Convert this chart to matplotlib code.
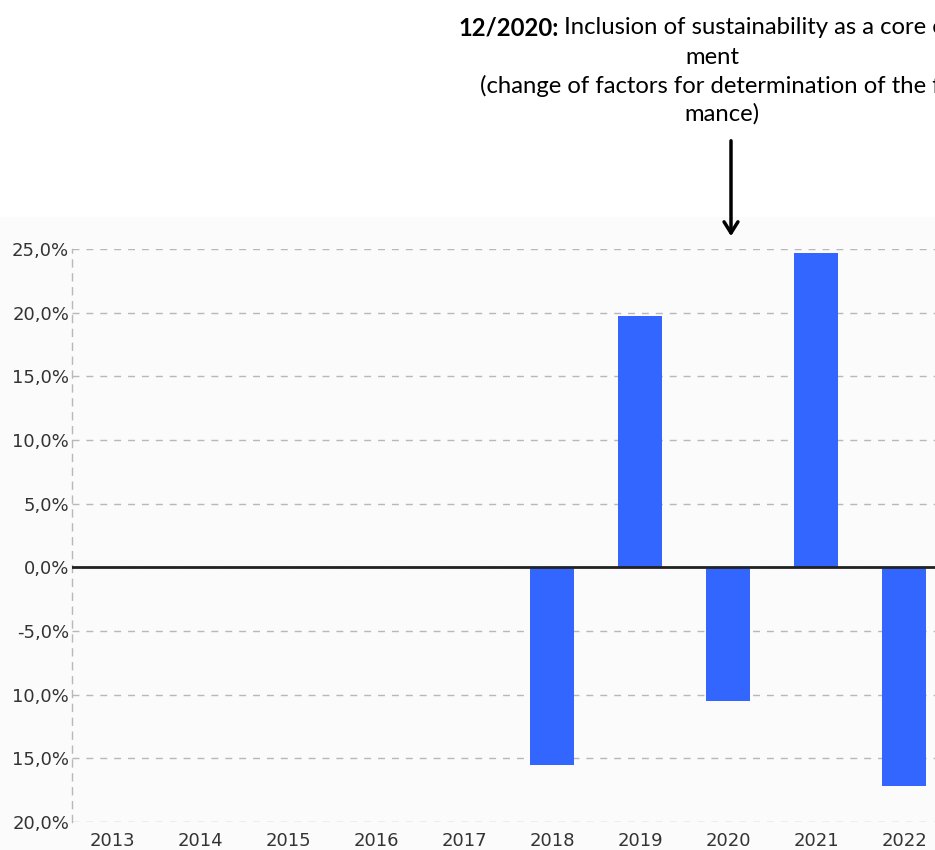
import matplotlib
matplotlib.use('Agg')
import matplotlib.pyplot as plt
from matplotlib.patches import Rectangle, FancyArrowPatch

years = ['2013', '2014', '2015', '2016', '2017', '2018', '2019', '2020', '2021', '2022']
returns = [0, 0, 0, 0, 0, -15.5, 19.7, -10.5, 24.7, -17.2]
y_ticks = [25, 20, 15, 10, 5, 0, -5, -10, -15, -20]
# labels as they appear in the picture (minus sign of the long ones is cut off at the edge)
y_tick_labels = ['25,0%', '20,0%', '15,0%', '10,0%', '5,0%', '0,0%', '-5,0%', '10,0%', '15,0%', '20,0%']

note_bold = '12/2020:'
note_lines = [' Inclusion of sustainability as a core ele-', 'ment',
              '(change of factors for determination of the fund perfor-', 'mance)']

W, H = 935, 850
BAR_COLOR = '#3366ff'
GRID_COLOR = '#b8b8b8'


def main():
    fig = plt.figure(figsize=(W / 100, H / 100), dpi=100)

    # faint grey backdrop behind the chart area
    fig.patches.append(Rectangle((0, 0), 1, (H - 217) / H, transform=fig.transFigure,
                                 facecolor='#fbfbfb', edgecolor='none', zorder=-5))

    left, right, top, bottom = 72, 952, 249, 822
    ax = fig.add_axes([left / W, (H - bottom) / H, (right - left) / W, (bottom - top) / H])
    ax.set_facecolor('none')

    x = list(range(len(years)))
    ax.bar(x, returns, width=0.5, color=BAR_COLOR, zorder=3)
    ax.axhline(0, color='#222222', lw=2, zorder=4)

    ax.set_xlim(-0.455, 9.545)
    ax.set_ylim(-20, 25)
    ax.set_xticks(x)
    ax.set_xticklabels(years)
    ax.set_yticks(y_ticks)
    ax.set_yticklabels(y_tick_labels)
    ax.tick_params(axis='both', length=0, labelsize=13, labelcolor='#333333')
    ax.tick_params(axis='y', pad=2)
    ax.tick_params(axis='x', pad=7)

    for s in ['top', 'right', 'bottom']:
        ax.spines[s].set_visible(False)
    ax.spines['left'].set_color(GRID_COLOR)
    ax.spines['left'].set_linestyle((0, (5, 5)))
    ax.spines['left'].set_linewidth(1)

    ax.yaxis.grid(True, color=GRID_COLOR, linestyle=(0, (5, 5)), lw=1)
    ax.set_axisbelow(True)

    # annotation text at the top
    fs = 17.2
    fam = 'Lato'
    renderer = fig.canvas.get_renderer()
    t0 = fig.text(458 / W, 1 - 28 / H, note_bold, fontsize=fs, family=fam, fontweight='bold',
                  ha='left', va='center', color='black')
    bb = t0.get_window_extent(renderer)
    fig.text(bb.x1 / W, 1 - 28 / H, note_lines[0], fontsize=fs, family=fam,
             ha='left', va='center', color='black')
    fig.text(712 / W, 1 - 57 / H, note_lines[1], fontsize=fs, family=fam,
             ha='center', va='center', color='black')
    fig.text(480 / W, 1 - 86 / H, note_lines[2], fontsize=fs, family=fam,
             ha='left', va='center', color='black')
    fig.text(722 / W, 1 - 114 / H, note_lines[3], fontsize=fs, family=fam,
             ha='center', va='center', color='black')

    fig.add_artist(FancyArrowPatch(
        (731 / W, 1 - 138 / H), (731 / W, 1 - 239 / H), transform=fig.transFigure,
        arrowstyle='->,head_length=8,head_width=5', lw=2.5, color='black', mutation_scale=1))

    fig.savefig('out.png', dpi=100)


if __name__ == "__main__":
    main()
